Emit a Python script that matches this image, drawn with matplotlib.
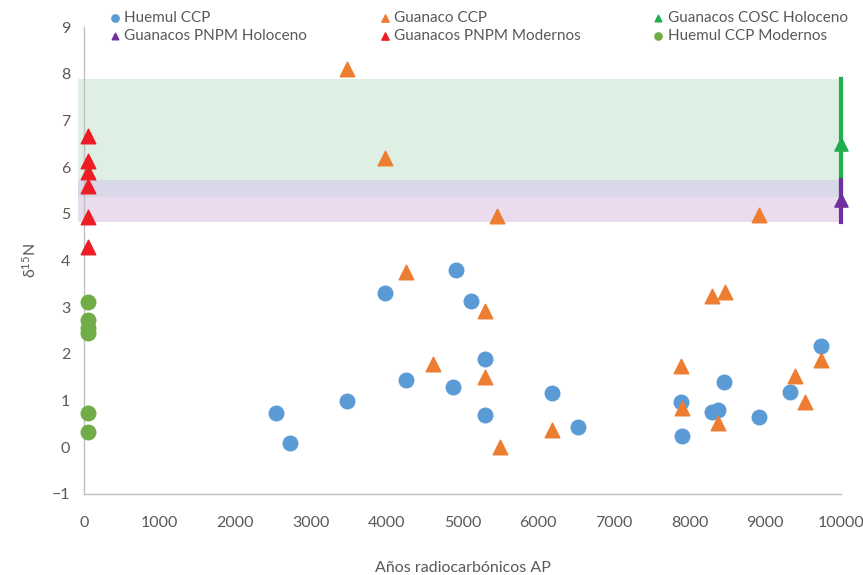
import matplotlib
matplotlib.use("Agg")
import matplotlib.pyplot as plt
import matplotlib.patches as patches

plt.rcParams['font.family'] = ['Lato', 'DejaVu Sans']

# Huemul CCP
huemul_x = [2540, 2720, 3470, 3980, 4260, 4910, 5110, 4870, 5300, 5300,
            6180, 6530, 7880, 7900, 8290, 8380, 8460, 8920, 9320, 9730]
huemul_y = [0.73, 0.10, 1.00, 3.31, 1.44, 3.80, 3.13, 1.30, 1.89, 0.69,
            1.16, 0.43, 0.97, 0.23, 0.76, 0.79, 1.40, 0.64, 1.19, 2.17]

# Guanaco CCP
guanaco_x = [3470, 3980, 4260, 4610, 5300, 5300, 5450, 5500, 6180, 7880,
             7900, 8290, 8470, 8380, 8920, 9390, 9530, 9730]
guanaco_y = [8.11, 6.20, 3.76, 1.78, 2.92, 1.50, 4.96, 0.00, 0.36, 1.74,
             0.84, 3.24, 3.33, 0.52, 4.98, 1.52, 0.97, 1.87]

# Guanacos PNPM Modernos
pnpm_mod_x = [50, 50, 50, 50, 50, 50]
pnpm_mod_y = [6.66, 6.14, 5.89, 5.59, 4.93, 4.28]

# Huemul CCP Modernos
huemul_mod_x = [50, 50, 50, 50, 50, 50]
huemul_mod_y = [3.12, 2.73, 2.56, 2.45, 0.73, 0.33]

# Holocene ranges (mean, min, max)
cosc_x, cosc_mean, cosc_min, cosc_max = 10000, 6.50, 5.36, 7.88
pnpm_x, pnpm_mean, pnpm_min, pnpm_max = 10000, 5.30, 4.83, 5.73

xticks = list(range(0, 10001, 1000))
yticks = list(range(-1, 10))

fig = plt.figure(figsize=(8.63, 5.75), dpi=100)
ax = fig.add_axes([0.0973, 0.141, 0.8772, 0.812])
ax.set_xlim(0, 10000)
ax.set_ylim(-1, 9)

# shaded bands, extending a little left of the axis
band_left = -80
def band(y0, y1, color):
    ax.add_patch(patches.Rectangle((band_left, y0), cosc_x - band_left, y1 - y0,
                                   facecolor=color, edgecolor='none', clip_on=False, zorder=0))

band(cosc_min, cosc_max, '#DEEFE4')
band(pnpm_min, pnpm_max, '#EADCEE')
band(cosc_min, pnpm_max, '#D9D8E9')

c_blue = '#5B9BD5'
c_orange = '#ED7D31'
c_green_t = '#1FAE4B'
c_purple = '#7030A0'
c_red = '#EE1C25'
c_green_c = '#70AD47'

ax.plot([cosc_x, cosc_x], [cosc_min, cosc_max], color=c_green_t, lw=3, clip_on=False, zorder=3)
ax.plot([pnpm_x, pnpm_x], [pnpm_min, pnpm_max], color=c_purple, lw=3, clip_on=False, zorder=3)

h1 = ax.scatter(huemul_x, huemul_y, s=110, marker='o', color=c_blue, label='Huemul CCP', zorder=4)
h2 = ax.scatter(guanaco_x, guanaco_y, s=110, marker='^', color=c_orange, label='Guanaco CCP', zorder=4)
h3 = ax.scatter([cosc_x], [cosc_mean], s=90, marker='^', color=c_green_t, label='Guanacos COSC Holoceno',
                zorder=4, clip_on=False)
h4 = ax.scatter([pnpm_x], [pnpm_mean], s=90, marker='^', color=c_purple, label='Guanacos PNPM Holoceno',
                zorder=4, clip_on=False)
h5 = ax.scatter(pnpm_mod_x, pnpm_mod_y, s=110, marker='^', color=c_red, label='Guanacos PNPM Modernos',
                zorder=4, clip_on=False)
h6 = ax.scatter(huemul_mod_x, huemul_mod_y, s=110, marker='o', color=c_green_c, label='Huemul CCP Modernos',
                zorder=4, clip_on=False)

ax.set_xticks(xticks)
ax.set_yticks(yticks)
ax.tick_params(length=0, labelsize=11.5, labelcolor='#595959')
ax.tick_params(axis='x', pad=16)
ax.tick_params(axis='y', pad=10)
for s in ['top', 'right']:
    ax.spines[s].set_visible(False)
for s in ['left', 'bottom']:
    ax.spines[s].set_color('#BFBFBF')
    ax.spines[s].set_linewidth(1)

ax.set_xlabel('Años radiocarbónicos AP', fontsize=11.5, color='#595959', labelpad=22)
ax.set_ylabel(r'$\mathregular{\delta^{15}N}$', fontsize=11.5, color='#595959', labelpad=9)

fig.legend(handles=[h1, h4, h2, h5, h3, h6], ncol=3, loc='upper left', bbox_to_anchor=(0.108, 1.005),
           frameon=False, fontsize=11, labelcolor='#595959', handletextpad=0.1, markerscale=0.5,
           columnspacing=4.6, labelspacing=0.3, handlelength=1.0)

fig.savefig('out.png', dpi=100)
